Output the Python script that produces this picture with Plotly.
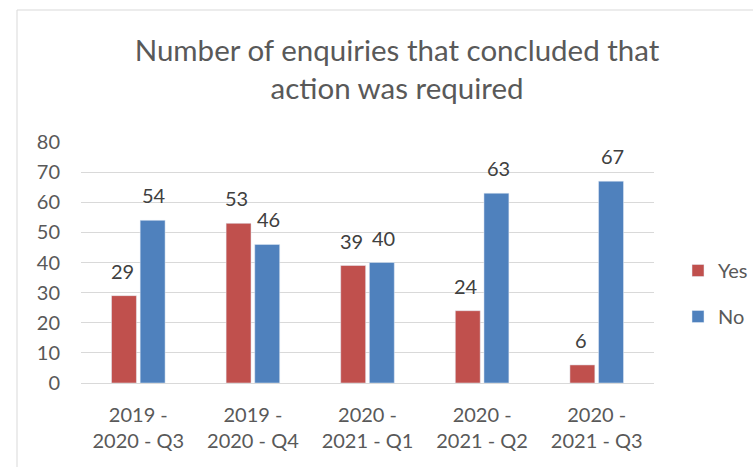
import plotly.graph_objects as go

categories = ["2019 -<br>2020 - Q3", "2019 -<br>2020 - Q4", "2020 -<br>2021 - Q1",
              "2020 -<br>2021 - Q2", "2020 -<br>2021 - Q3"]
yes_values = [29, 53, 39, 24, 6]
no_values = [54, 46, 40, 63, 67]

RED = "#C0504D"
BLUE = "#4F81BD"
GREY_TEXT = "#595959"
GRID = "#D9D9D9"
FONT = "Lato, Open Sans, sans-serif"

W, H = 753, 467
ML, MR, MT, MB = 81, 99, 142, 84
plot_w = W - ML - MR
plot_h = H - MT - MB

fig = go.Figure()
fig.add_trace(go.Bar(name="Yes", x=categories, y=yes_values, marker_color=RED, legendgroup="yes"))
fig.add_trace(go.Bar(name="No", x=categories, y=no_values, marker_color=BLUE, legendgroup="no"))

# value labels above each bar
annotations = []
for vals, shift in ((yes_values, -16), (no_values, 16)):
    for c, v in zip(categories, vals):
        annotations.append(dict(
            x=c, y=v, xref="x", yref="y", text=str(v), showarrow=False,
            xshift=shift, yshift=25, yanchor="middle",
            font=dict(family=FONT, size=20, color="#404040")))

fig.update_layout(
    width=W, height=H,
    margin=dict(l=ML, r=MR, t=MT, b=MB, autoexpand=False),
    paper_bgcolor="white", plot_bgcolor="white",
    barmode="group", bargap=0.5, bargroupgap=0.13,
    title=dict(text="Number of enquiries that concluded that<br>action was required",
               x=397 / W, xanchor="center", y=1 - 61 / H, yanchor="middle",
               font=dict(family=FONT, size=29.5, color=GREY_TEXT)),
    font=dict(family=FONT, size=20, color=GREY_TEXT),
    xaxis=dict(showgrid=False, showline=True, linecolor=GRID, linewidth=1,
               ticks="", ticklabelstandoff=14, tickfont=dict(size=20, color=GREY_TEXT)),
    yaxis=dict(range=[0, 80], dtick=10, showgrid=True, gridcolor=GRID, gridwidth=1,
               zeroline=False, showline=False, ticks="", ticklabelstandoff=20,
               tickfont=dict(size=20, color=GREY_TEXT)),
    legend=dict(x=(678 - ML) / plot_w, y=1 - (251 - MT) / plot_h, xanchor="left", yanchor="top",
                font=dict(size=20, color=GREY_TEXT), tracegroupgap=17,
                itemwidth=30, bgcolor="rgba(0,0,0,0)"),
    annotations=annotations,
    shapes=[dict(type="rect", xref="paper", yref="paper",
                 x0=(17 - ML) / plot_w, x1=(W + 5 - ML) / plot_w,
                 y0=-(H + 5 - MT - plot_h) / plot_h, y1=1 + (MT - 10) / plot_h,
                 line=dict(color=GRID, width=1), layer="below")],
)

fig.write_html("out.html")
